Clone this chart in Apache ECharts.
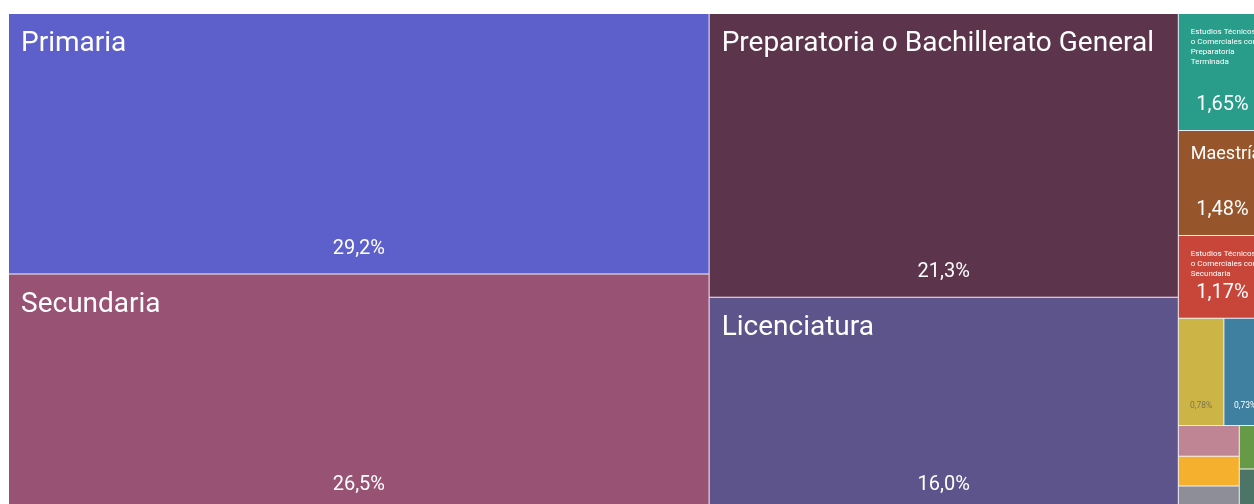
<!DOCTYPE html>
<html>
<head>
<meta charset="utf-8">
<script src="https://cdn.jsdelivr.net/npm/echarts@6/dist/echarts.min.js"></script>
<style>
  html, body { margin: 0; padding: 0; background: #fff; }
  #chart { width: 1254px; height: 504px; }
</style>
</head>
<body>
<div id="chart"></div>
<script>
// escolaridad, % of population
const categories = [
  'Primaria',
  'Secundaria',
  'Preparatoria o Bachillerato General',
  'Licenciatura',
  'Estudios Técnicos o Comerciales con Preparatoria Terminada',
  'Maestría',
  'Estudios Técnicos o Comerciales con Secundaria Terminada',
  'Normal de Licenciatura',
  'Especialidad',
  'Doctorado',
  'Normal con Primaria o Secundaria Terminada',
  'Estudios Técnicos o Comerciales con Primaria Terminada',
  'Preescolar',
  'Ninguno'
];
const shares = [29.2, 26.5, 21.3, 16.0, 1.65, 1.48, 1.17, 0.78, 0.73, 0.30, 0.29, 0.24, 0.19, 0.18];
const colors = [
  '#5d60cb', '#985273', '#5c344b', '#5d548b', '#2a9d8a', '#97552b', '#c8453a',
  '#cdb446', '#3f7f9f', '#c08595', '#f5b02d', '#8d8e97', '#679a47', '#4c7467'
];

const FONT = "Roboto, 'Noto Sans', sans-serif";

function pct(v) {
  return v.toFixed(v >= 10 ? 1 : 2).replace('.', ',') + '%';
}
function nameSize(v, name) {
  if (v >= 10) return 28;
  if (v >= 1) return name.length > 20 ? 8 : 18;
  return 0;
}
function valueSize(v) {
  if (v >= 1) return 20;
  return 8.5;
}

const nameData = categories.map((c, i) => ({
  name: c,
  value: shares[i],
  itemStyle: { color: colors[i] },
  label: {
    show: shares[i] >= 1,
    fontSize: nameSize(shares[i], c),
    lineHeight: Math.round(nameSize(shares[i], c) * 1.2),
    overflow: c.length > 20 && shares[i] < 10 ? 'break' : 'none'
  }
}));
const valueData = categories.map((c, i) => ({
  name: c,
  value: shares[i],
  label: {
    show: shares[i] >= 0.5,
    fontSize: valueSize(shares[i]),
    color: colors[i] === '#cdb446' ? '#7d7650' : '#fff'
  }
}));

const box = { left: 9, top: 14, width: 1257, height: 496 };

const chart = echarts.init(document.getElementById('chart'), null, { renderer: 'canvas' });
chart.setOption({
  animation: false,
  series: [
    Object.assign({
      type: 'treemap',
      roam: false,
      nodeClick: false,
      breadcrumb: { show: false },
      data: nameData,
      levels: [
        { itemStyle: { borderColor: '#eceaf4', borderWidth: 0, gapWidth: 1 } },
        { itemStyle: { borderWidth: 0, gapWidth: 0 } }
      ],
      label: {
        position: 'insideTopLeft',
        padding: [13, 0, 38, 12],
        color: '#fff',
        fontFamily: FONT
      }
    }, box),
    Object.assign({
      type: 'treemap',
      roam: false,
      nodeClick: false,
      silent: true,
      z: 5,
      breadcrumb: { show: false },
      data: valueData,
      levels: [
        { itemStyle: { color: 'rgba(0,0,0,0)', borderColor: 'rgba(0,0,0,0)', borderWidth: 0, gapWidth: 1 } },
        { itemStyle: { color: 'rgba(0,0,0,0)', borderColor: 'rgba(0,0,0,0)', borderWidth: 0 } }
      ],
      label: {
        position: 'insideBottom',
        padding: [0, 0, 15, 0],
        fontFamily: FONT,
        formatter: p => pct(p.value)
      }
    }, box)
  ]
});
</script>
</body>
</html>
